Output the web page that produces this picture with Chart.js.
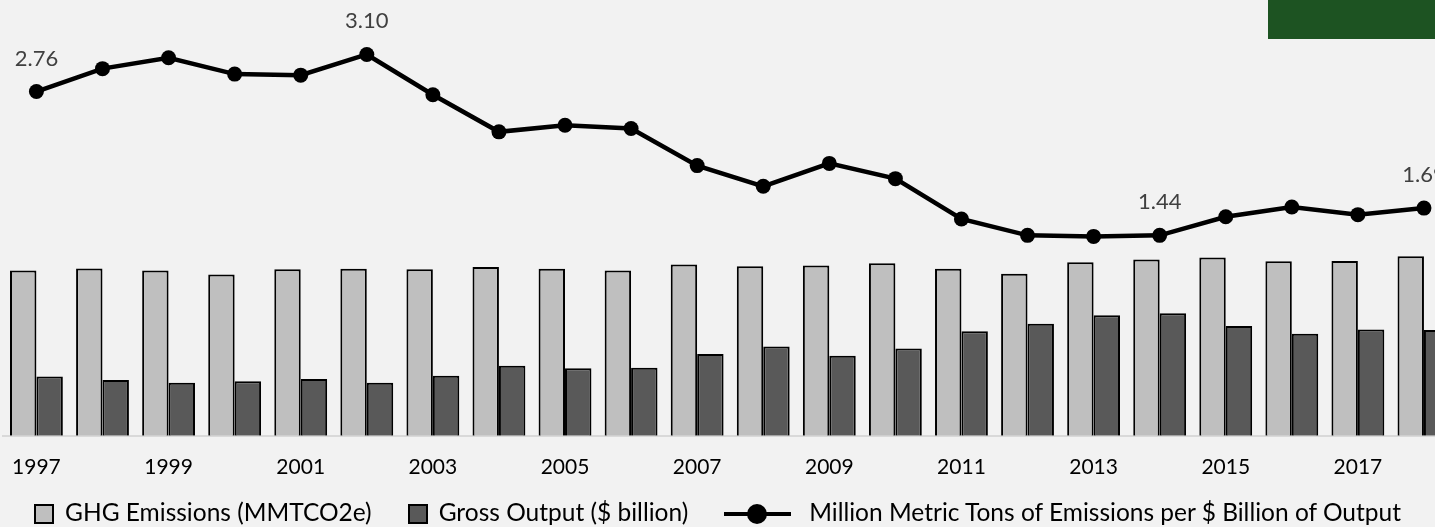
<!DOCTYPE html>
<html>
<head>
<meta charset="utf-8">
<script src="https://cdn.jsdelivr.net/npm/chart.js@4/dist/chart.umd.min.js"></script>
<style>
  html, body { margin: 0; padding: 0; background: #f2f2f2; overflow: hidden; width: 1435px; height: 527px; }
  #wrap { position: relative; width: 1435px; height: 527px; overflow: hidden; }
  #ghg-chart { position: absolute; left: -7px; top: 0; }
  #badge { position: absolute; left: 1268px; top: 0; width: 167px; height: 39px; background: #1d5322; }
  #legend { position: absolute; left: 0; top: 497px; width: 1435px; display: flex; justify-content: center; gap: 36px;
            font-family: Lato, sans-serif; font-size: 24.5px; line-height: 30px; color: #000; white-space: nowrap; }
  .item { display: flex; align-items: center; }
  .box { width: 16px; height: 16px; border: 2px solid #000; margin: 3px 11px 0 0; }
  .mark { position: relative; width: 67px; height: 20px; margin: 3px 18px 0 0; }
  .mark .ln { position: absolute; left: 0; right: 0; top: 8px; height: 4px; background: #000; }
  .mark .dot { position: absolute; left: 23px; top: 0; width: 20px; height: 20px; border-radius: 50%; background: #000; }
</style>
</head>
<body>
<div id="wrap">
  <canvas id="ghg-chart" width="1467" height="527"></canvas>
  <div id="badge"></div>
  <div id="legend"></div>
</div>
<script>
var years = ['1997', '1998', '1999', '2000', '2001', '2002', '2003', '2004', '2005', '2006', '2007',
             '2008', '2009', '2010', '2011', '2012', '2013', '2014', '2015', '2016', '2017', '2018'];
var ghgEmissions = [561, 568, 561, 547, 565, 567, 565, 573, 567, 561, 581,
                    575, 578, 586, 567, 550, 589, 598, 605, 592, 593, 609];
var grossOutput  = [201, 189, 180, 185, 193, 180, 204, 238, 229, 231, 278,
                    303, 272, 296, 355, 380, 409, 416, 373, 346, 361, 359];
var intensity    = [2.76, 2.97, 3.07, 2.92, 2.91, 3.10, 2.73, 2.39, 2.45, 2.42, 2.08,
                    1.89, 2.10, 1.96, 1.59, 1.44, 1.43, 1.44, 1.61, 1.70, 1.63, 1.69];
var labelledYears = ['1997', '2002', '2014', '2018'];

// value labels above a few points of the line
var pointLabels = {
    id: 'pointLabels',
    afterDatasetsDraw: function(chart) {
        var meta = chart.getDatasetMeta(0);
        var ctx = chart.ctx;
        ctx.save();
        ctx.font = '22px Lato';
        ctx.fillStyle = '#404040';
        ctx.textAlign = 'center';
        ctx.textBaseline = 'alphabetic';
        meta.data.forEach(function(pt, i) {
            if (labelledYears.indexOf(years[i]) < 0) return;
            ctx.fillText(intensity[i].toFixed(2), pt.x, pt.y - 26);
        });
        ctx.restore();
    }
};

Chart.defaults.font.family = 'Lato';

var ctx = document.getElementById('ghg-chart').getContext('2d');
var chart = new Chart(ctx, {
    type: 'bar',
    data: {
        labels: years,
        datasets: [{
            type: 'line',
            label: 'Million Metric Tons of Emissions per $ Billion of Output',
            data: intensity,
            yAxisID: 'y1',
            borderColor: '#000',
            backgroundColor: '#000',
            borderWidth: 4.5,
            pointRadius: 7.5,
            pointBorderWidth: 0,
            pointBackgroundColor: '#000',
            tension: 0,
            order: 0
        }, {
            label: 'GHG Emissions (MMTCO2e)',
            data: ghgEmissions,
            yAxisID: 'y',
            backgroundColor: '#bfbfbf',
            borderColor: '#000',
            borderWidth: 2,
            categoryPercentage: 0.8,
            barPercentage: 1.0,
            order: 1
        }, {
            label: 'Gross Output ($ billion)',
            data: grossOutput,
            yAxisID: 'y',
            backgroundColor: '#595959',
            borderColor: '#000',
            borderWidth: 2,
            categoryPercentage: 0.8,
            barPercentage: 1.0,
            order: 2
        }]
    },
    options: {
        responsive: false,
        animation: false,
        layout: { autoPadding: false, padding: { left: 3, right: 3, top: 0, bottom: 28 } },
        plugins: {
            legend: { display: false },
            tooltip: { enabled: false }
        },
        scales: {
            x: {
                grid: { display: false, drawTicks: false },
                border: { display: true, color: '#d9d9d9', width: 2 },
                ticks: {
                    autoSkip: false,
                    maxRotation: 0,
                    padding: 19,
                    color: '#000',
                    font: { size: 21 },
                    callback: function(value, index) {
                        return index % 2 === 0 ? this.getLabelForValue(value) : '';
                    }
                }
            },
            y:  { display: false, min: 0, max: 1479 },
            y1: { display: false, min: -0.4, max: 3.6 }
        }
    },
    plugins: [pointLabels]
});

// legend in the order of the original
var legend = document.getElementById('legend');
[1, 2, 0].forEach(function(i) {
    var ds = chart.data.datasets[i];
    var item = document.createElement('div');
    item.className = 'item';
    if (ds.type === 'line') {
        item.innerHTML = '<span class="mark"><span class="ln"></span><span class="dot"></span></span>';
    } else {
        item.innerHTML = '<span class="box" style="background:' + ds.backgroundColor + '"></span>';
    }
    var txt = document.createElement('span');
    txt.textContent = ds.label;
    item.appendChild(txt);
    legend.appendChild(item);
});
</script>
</body>
</html>
